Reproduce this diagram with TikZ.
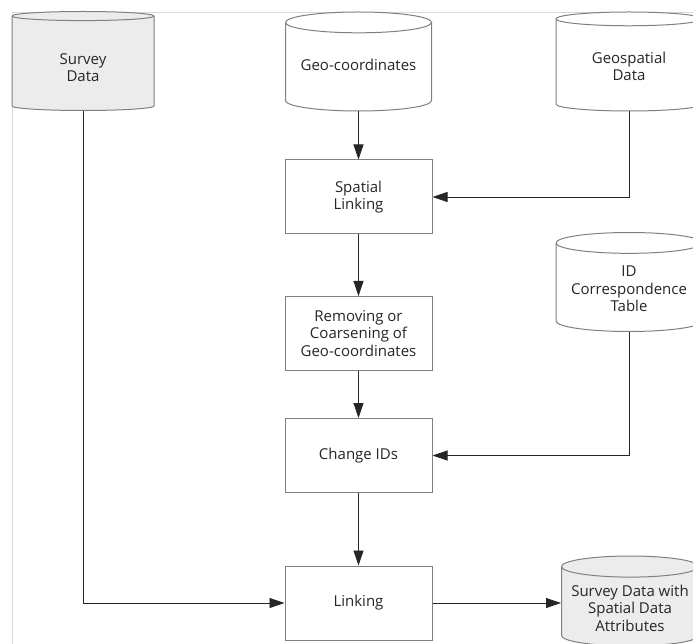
\documentclass[tikz,border=0pt]{standalone}
\usepackage{fontspec}
\setsansfont{Open Sans}
\usetikzlibrary{shapes.geometric,arrows.meta}
\newcommand{\dbtop}[1]{\rule{0pt}{#1pt}}
\newcommand{\dbbot}[1]{\rule[-#1pt]{0pt}{#1pt}}
\begin{document}
\begin{tikzpicture}[x=1pt, y=-1pt, font=\sffamily\fontsize{15}{17.5}\selectfont, >={Triangle[length=15pt,width=10pt]}]
    \tikzstyle{process}=[rectangle, draw=gray, line width=1pt, fill=white, text=black!85, align=center, minimum width=147pt, minimum height=74pt]
    \tikzstyle{store}=[cylinder, shape border rotate=90, aspect=0.17, anchor=shape center, draw=gray, line width=1pt, fill=white, text=black!85, align=center, minimum width=146pt, minimum height=99pt]
    \tikzstyle{flow}=[->, line width=0.8pt, black!85]
    \useasboundingbox (0,0) rectangle (693,644);
    \draw [gray!30] (12,644) -- (12,12) -- (693,12);
    \node (survey) [store, fill=gray!15, minimum width=142pt] at (83,61) {\dbtop{18}Survey\\Data};
    \node (geocoord) [store] at (358.5,61.5) {Geo-coordinates\dbbot{7}};
    \node (geospatial) [store] at (629,61.5) {Geospatial\\Data};
    \node (splink) [process] at (358.5,197) {Spatial\\Linking};
    \node (remove) [process, below of=splink, node distance=136.5pt] {Removing or\\Coarsening of\\Geo-coordinates};
    \node (change) [process, below of=remove, node distance=122pt] {Change IDs};
    \node (linking) [process, below of=change, node distance=147.5pt] {Linking};
    \node (idtable) [store] at (629,282) {ID\\Correspondence\\Table};
    \node (result) [store, fill=gray!15, minimum width=137pt, minimum height=90pt] at (630,601) {Survey Data with\\Spatial Data\\Attributes};
    \draw [flow] (geocoord) -- (splink);
    \draw [flow] (geospatial.south) |- (splink.east);
    \draw [flow] (splink) -- (remove);
    \draw [flow] (remove) -- (change);
    \draw [flow] (idtable.south) |- (change.east);
    \draw [flow] (change) -- (linking);
    \draw [flow] (survey.south) |- (linking.west);
    \draw [flow] (linking.east) -- (linking.east -| result.west);
\end{tikzpicture}
\end{document}
